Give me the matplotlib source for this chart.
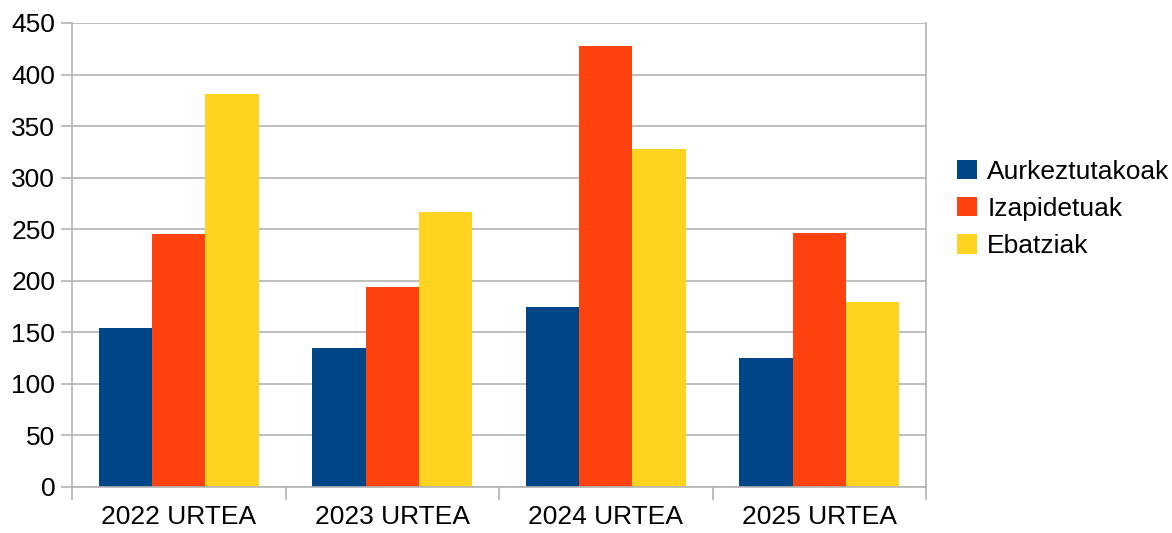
import matplotlib.pyplot as plt
import numpy as np

YEARS = ["2022 URTEA", "2023 URTEA", "2024 URTEA", "2025 URTEA"]
SERIES = ["Aurkeztutakoak", "Izapidetuak", "Ebatziak"]
AURKEZTUTAKOAK = [154, 135, 175, 125]
IZAPIDETUAK = [245, 194, 428, 246]
EBATZIAK = [381, 267, 328, 179]

COLORS = ["#004586", "#FF420E", "#FFD320"]
GRID_COLOR = "#B3B3B3"


def main():
    plt.rcParams["font.family"] = ["Liberation Sans", "DejaVu Sans"]
    fig = plt.figure(figsize=(11.72, 5.33), dpi=100)
    ax = fig.add_axes([72 / 1172, 1 - 487 / 533, (926 - 72) / 1172, (487 - 23) / 533])

    x = np.arange(len(YEARS))
    width = 0.25
    values = [AURKEZTUTAKOAK, IZAPIDETUAK, EBATZIAK]
    for i, (name, vals) in enumerate(zip(SERIES, values)):
        ax.bar(x + (i - 1) * width, vals, width, color=COLORS[i], label=name, zorder=2)

    ax.set_xlim(-0.5, len(YEARS) - 0.5)
    ax.set_ylim(0, 450)
    ax.set_yticks(range(0, 451, 50))
    ax.yaxis.grid(True, color=GRID_COLOR, linewidth=1.2, zorder=0)
    ax.set_axisbelow(True)

    ax.set_xticks(x)
    ax.set_xticklabels(YEARS)
    ax.set_xticks(np.arange(-0.5, len(YEARS), 1), minor=True)
    ax.tick_params(axis="x", which="major", length=0, pad=13, labelsize=19)
    ax.tick_params(axis="x", which="minor", length=9, width=1.2, color=GRID_COLOR)
    ax.tick_params(axis="y", length=8, width=1.2, color=GRID_COLOR, labelsize=19, pad=4)

    ax.spines["top"].set_visible(False)
    for side in ["left", "right", "bottom"]:
        ax.spines[side].set_color(GRID_COLOR)
        ax.spines[side].set_linewidth(1.2)

    fig.legend(loc="center left", bbox_to_anchor=(957 / 1172, 1 - 209 / 533),
               frameon=False, fontsize=19, handlelength=0.75, handleheight=0.75,
               handletextpad=0.4, labelspacing=0.5, borderaxespad=0, borderpad=0)

    fig.savefig("out.png", dpi=100)


if __name__ == "__main__":
    main()
